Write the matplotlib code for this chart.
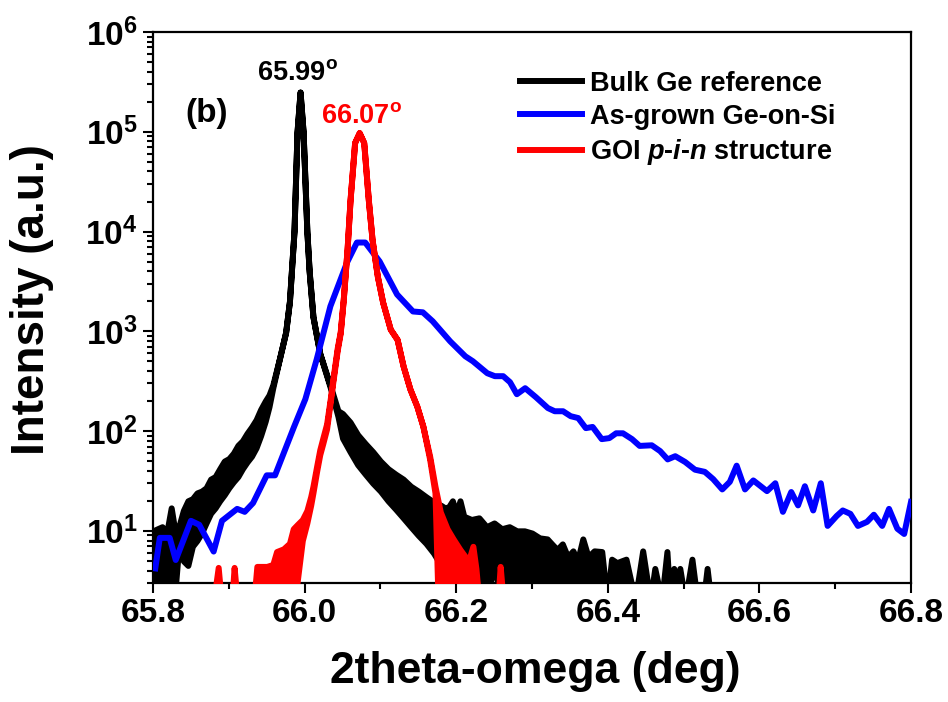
import numpy as np
import matplotlib
matplotlib.use("Agg")
import matplotlib.pyplot as plt
from matplotlib.lines import Line2D
from matplotlib.ticker import MultipleLocator, LogLocator, NullFormatter

plt.rcParams['font.family'] = ['Liberation Sans', 'DejaVu Sans']
plt.rcParams['font.weight'] = 'bold'
plt.rcParams['mathtext.fontset'] = 'custom'
plt.rcParams['mathtext.rm'] = 'Liberation Sans:bold'
plt.rcParams['mathtext.it'] = 'Liberation Sans:italic:bold'
plt.rcParams['mathtext.bf'] = 'Liberation Sans:bold'
plt.rcParams['mathtext.default'] = 'regular'

# Bulk Ge reference: noisy band given as lower / upper envelope (equal on the smooth peak)
bulk_x = [65.800, 65.806, 65.812, 65.818, 65.824, 65.828, 65.834, 65.840, 65.846, 65.852,
          65.858, 65.864, 65.870, 65.876, 65.882, 65.888, 65.894, 65.900, 65.906, 65.912,
          65.918, 65.924, 65.930, 65.936, 65.942, 65.948, 65.953, 65.958, 65.967, 65.975,
          65.980, 65.983, 65.986, 65.990, 65.994, 65.998, 66.003, 66.006, 66.011, 66.020,
          66.034, 66.044, 66.050, 66.060, 66.070, 66.080, 66.090, 66.100, 66.110, 66.120,
          66.130, 66.140, 66.150, 66.160, 66.170, 66.180, 66.185, 66.190, 66.195, 66.200,
          66.205, 66.210, 66.220, 66.230, 66.240, 66.250, 66.260, 66.270, 66.280, 66.290,
          66.300, 66.310, 66.320, 66.326, 66.333, 66.340, 66.347, 66.354, 66.360, 66.367,
          66.374, 66.382, 66.392, 66.399, 66.405, 66.412, 66.418, 66.424, 66.436, 66.446,
          66.456, 66.462, 66.471, 66.478, 66.482, 66.487, 66.491, 66.495, 66.502, 66.511,
          66.518, 66.526, 66.531, 66.536]
bulk_lo = [2, 2, 2, 2, 2, 2, 7, 5, 4.5, 7,
           8, 9.5, 12, 15, 17, 20, 23, 27, 31, 35,
           42, 49, 56, 68, 90, 125, 175, 270, 540, 980,
           2000, 4500, 1.0e4, 1.0e5, 2.5e5, 1.0e5, 1.0e4, 4000, 1400, 600,
           270, 140, 85, 62, 46, 37, 30, 25, 20, 16.5,
           13.5, 11, 9, 7.5, 6, 4.5, 3.5, 4.5, 5.5, 4,
           5.5, 4, 6, 4.5, 2, 4.5, 2, 2, 3, 2,
           2, 2, 2, 2, 2, 2, 2, 2, 2, 2,
           2, 2, 2, 2, 2, 2, 2, 2, 2, 2,
           2, 2, 2, 2, 2, 2, 2, 2, 2, 2,
           2, 2, 2, 2]
bulk_hi = [10, 10.5, 11, 9.5, 17, 11, 11, 16, 20, 21,
           24, 25, 27, 33, 35, 42, 50, 53, 60, 72,
           80, 95, 110, 130, 165, 200, 230, 290, 540, 980,
           2000, 4500, 1.0e4, 1.0e5, 2.5e5, 1.0e5, 1.0e4, 4000, 1400, 600,
           282, 160, 150, 123, 92, 75, 62, 50, 42, 37,
           33, 28, 25, 22, 19.5, 18, 17, 17.4, 20, 15,
           20, 14, 13, 13.5, 11, 12, 10.5, 11, 10, 10,
           9.5, 8.5, 8.3, 7.4, 6.5, 7.4, 5.5, 6.3, 5, 8.3,
           5.5, 6.3, 6.2, 2, 5.2, 4.8, 5, 5.2, 2, 6.3,
           2, 4.2, 2, 6.2, 2, 4.2, 2, 4.2, 2, 5.2,
           2, 2, 4.2, 2]

# As-grown Ge-on-Si
grown_x = [65.803, 65.809, 65.822, 65.830, 65.850, 65.861, 65.880, 65.891, 65.911, 65.921,
           65.932, 65.950, 65.961, 65.986, 66.001, 66.016, 66.034, 66.056, 66.069, 66.080,
           66.099, 66.122, 66.143, 66.156, 66.169, 66.192, 66.212, 66.222, 66.241, 66.251,
           66.262, 66.271, 66.280, 66.291, 66.305, 66.321, 66.330, 66.341, 66.351, 66.361,
           66.371, 66.380, 66.392, 66.402, 66.411, 66.420, 66.432, 66.442, 66.458, 66.469,
           66.479, 66.489, 66.502, 66.515, 66.528, 66.539, 66.551, 66.561, 66.570, 66.581,
           66.592, 66.610, 66.621, 66.631, 66.642, 66.651, 66.660, 66.671, 66.681, 66.690,
           66.702, 66.710, 66.720, 66.730, 66.742, 66.751, 66.762, 66.771, 66.782, 66.791,
           66.800]
grown_y = [4.2, 8.5, 8.5, 5.1, 12.6, 11.5, 6.2, 12.6, 16.6, 15.5,
           19, 36, 36, 110, 209, 525, 1780, 4900, 7760, 7760,
           5010, 2340, 1580, 1550, 1260, 794, 562, 501, 380, 355,
           355, 309, 234, 269, 219, 170, 158, 158, 141, 135,
           107, 110, 83, 85, 95, 95, 83, 71, 72, 63,
           52, 56, 49, 41, 39, 33, 26, 31, 45, 26,
           32, 25, 30, 15.5, 24.5, 18, 28, 16, 30, 11.2,
           14.1, 16, 14.8, 11.2, 12.3, 14.5, 11.2, 16.6, 10.5, 9.3,
           19.5]

# GOI p-i-n structure: lower / upper envelope
goi_x = [65.880, 65.886, 65.890, 65.904, 65.907, 65.911, 65.933, 65.937, 65.950, 65.958,
         65.963, 65.972, 65.980, 65.985, 65.990, 65.997, 66.003, 66.008, 66.011, 66.016,
         66.020, 66.024, 66.029, 66.034, 66.037, 66.043, 66.047, 66.051, 66.056, 66.060,
         66.066, 66.072, 66.078, 66.084, 66.089, 66.096, 66.103, 66.113, 66.122, 66.130,
         66.139, 66.148, 66.156, 66.165, 66.172, 66.176, 66.179, 66.188, 66.196, 66.205,
         66.212, 66.216, 66.222, 66.226, 66.230, 66.255, 66.258, 66.262]
goi_lo = [2, 2, 2, 2, 2, 2, 2, 2, 2, 2,
          2, 2, 2, 2, 3, 8, 12, 18, 24, 40,
          58, 75, 105, 200, 300, 640, 960, 2090, 6600, 2.1e4,
          7.8e4, 9.8e4, 7.8e4, 2.1e4, 8300, 3550, 1950, 1050, 830, 447,
          263, 178, 112, 52, 24, 2, 2, 2, 2, 2,
          2, 2, 2, 2, 2, 2, 2, 2]
goi_hi = [2, 4.3, 2, 2, 4.3, 2, 2, 4.4, 4.4, 4.6,
          6.2, 6.6, 7.5, 10.5, 11.5, 13, 16, 22, 28, 45,
          65, 85, 118, 215, 320, 680, 990, 2090, 6600, 2.1e4,
          7.8e4, 9.8e4, 7.8e4, 2.1e4, 8300, 3550, 1950, 1050, 830, 447,
          263, 178, 112, 56, 28, 20, 15.5, 10.5, 8.3, 6.5,
          5.5, 4.9, 7, 4.2, 2, 2, 4.4, 2]

labels = ['Bulk Ge reference', 'As-grown Ge-on-Si', r'GOI $\mathit{p}$-$\mathit{i}$-$\mathit{n}$ structure']
colors = ['black', '#0000ff', '#ff0000']
lw = 4.3

fig = plt.figure(figsize=(9.48, 7.02), dpi=100)
ax = fig.add_axes([153 / 948, 1 - 583 / 702, 758 / 948, 551 / 702])

ax.fill_between(bulk_x, bulk_lo, bulk_hi, facecolor=colors[0], edgecolor=colors[0],
                linewidth=lw, joinstyle='round', zorder=2)
ax.plot(grown_x, grown_y, color=colors[1], linewidth=lw, solid_joinstyle='round', zorder=3)
ax.fill_between(goi_x, goi_lo, goi_hi, facecolor=colors[2], edgecolor=colors[2],
                linewidth=lw, joinstyle='round', zorder=4)

ax.set_yscale('log')
ax.set_xlim(65.8, 66.8)
ax.set_ylim(3, 1e6)

ax.xaxis.set_major_locator(MultipleLocator(0.2))
ax.xaxis.set_minor_locator(MultipleLocator(0.1))
ax.xaxis.set_major_formatter(plt.FuncFormatter(lambda v, p: '{:.1f}'.format(v)))
ax.yaxis.set_major_locator(LogLocator(base=10, numticks=10))
ax.yaxis.set_minor_locator(LogLocator(base=10, subs=np.arange(2, 10), numticks=20))
ax.yaxis.set_minor_formatter(NullFormatter())

ax.tick_params(which='both', direction='out', top=False, right=False, width=1.5, labelsize=24, pad=4)
ax.tick_params(which='major', length=7)
ax.tick_params(which='minor', length=4.5)
for s in ax.spines.values():
    s.set_linewidth(1.6)

fig.text(32 / 948, 1 - 300 / 702, 'Intensity (a.u.)', rotation=90, ha='center', va='center', fontsize=33)
fig.text(535 / 948, 1 - 672 / 702, '2theta-omega (deg)', ha='center', va='center', fontsize=32)

ax.text(65.991, 3.3e5, r'65.99$^\mathregular{o}$', ha='center', va='baseline', fontsize=19.5, color='black')
ax.text(66.075, 1.23e5, r'66.07$^\mathregular{o}$', ha='center', va='baseline', fontsize=19.5, color='#ff0000')
ax.text(65.871, 1.26e5, '(b)', ha='center', va='baseline', fontsize=24)

handles = [Line2D([], [], color=c, linewidth=lw) for c in colors]
ax.legend(handles, labels, loc='upper left', bbox_to_anchor=(0.484, 0.93), frameon=False,
          fontsize=19.5, borderpad=0, borderaxespad=0, handlelength=2.3, handletextpad=0.3,
          labelspacing=0.27)

fig.savefig('out.png', dpi=100)
